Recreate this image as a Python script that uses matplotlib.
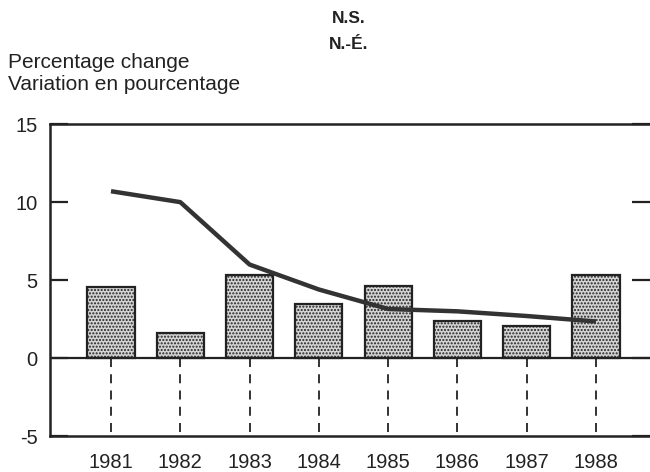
import matplotlib.pyplot as plt

plt.rcParams['font.family'] = ['Liberation Sans', 'DejaVu Sans']
plt.rcParams['hatch.color'] = '#666666'

years = ['1981', '1982', '1983', '1984', '1985', '1986', '1987', '1988']
bar_values = [4.55, 1.6, 5.35, 3.5, 4.6, 2.35, 2.05, 5.3]
line_values = [10.7, 10.0, 6.0, 4.4, 3.15, 3.0, 2.7, 2.35]
yticks = [15, 10, 5, 0, -5]

fig = plt.figure(figsize=(6.5, 4.72), dpi=100)
ax = fig.add_axes([0.077, 0.076, 0.923, 0.661])

x = list(range(len(years)))
ax.bar(x, bar_values, width=0.68, facecolor='#d4d4d4', edgecolor='#222222',
       linewidth=1.6, hatch='.....', zorder=2)
ax.plot(x, line_values, color='#333333', linewidth=3.2, solid_capstyle='butt', zorder=3)

# dashed drop lines below zero
for xi in x:
    ax.plot([xi, xi], [0, -5], color='#222222', linewidth=1.3,
            linestyle=(0, (5, 4)), zorder=1)

ax.axhline(0, color='#222222', linewidth=1.6, zorder=4)

ax.set_xlim(-0.88, 7.78)
ax.set_ylim(-5, 15)
ax.set_yticks(yticks)
ax.set_yticklabels([str(v) for v in yticks], fontsize=14.5, color='#222222')
ax.tick_params(axis='y', direction='in', length=13, width=1.6, pad=9,
               left=True, right=True, color='#222222')
ax.set_xticks(x)
ax.set_xticklabels(years, fontsize=14.5, color='#222222')
ax.tick_params(axis='x', length=0, pad=12)

for side in ['left', 'top', 'bottom']:
    ax.spines[side].set_linewidth(1.8)
    ax.spines[side].set_color('#222222')
ax.spines['right'].set_visible(False)

fig.text(0.012, 0.887, 'Percentage change\nVariation en pourcentage',
         fontsize=15, color='#222222', va='top', ha='left', linespacing=1.2)
fig.text(0.537, 0.96, 'N.S.', fontsize=12.5, fontweight='bold', color='#222222',
         ha='center', va='center')
fig.text(0.537, 0.905, 'N.-É.', fontsize=12.5, fontweight='bold', color='#222222',
         ha='center', va='center')

fig.savefig('out.png', dpi=100)
